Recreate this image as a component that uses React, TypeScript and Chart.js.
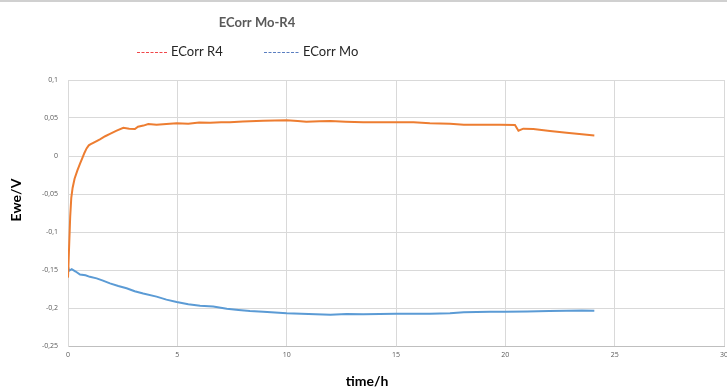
import React, { useEffect, useRef } from "react";
import { Chart, registerables } from "chart.js";

Chart.register(...registerables);

const TITLE = "ECorr Mo-R4";
const X_TITLE = "time/h";
const Y_TITLE = "Ewe/V";
const SERIES_NAMES = ["ECorr R4", "ECorr Mo"];
const LINE_COLORS = ["#ED7D31", "#5B9BD5"];
const LEGEND_COLORS = ["#F0474A", "#5A7EC0"];

const R4_TIME = [
  0, 0.05, 0.1, 0.15, 0.21, 0.3, 0.43, 0.55, 0.65, 0.75, 0.85, 0.95, 1.04, 1.2, 1.46, 1.7, 1.92, 2.2, 2.53,
  2.8, 3.06, 3.2, 3.45, 3.67, 4.05, 4.5, 4.97, 5.5, 6.0, 6.5, 7.0, 7.4, 8.0, 8.93, 10.0, 10.5, 10.9, 11.5,
  12.0, 12.7, 13.5, 14.2, 15.0, 15.8, 16.55, 17.47, 18.1, 19.3, 19.75, 20.44, 20.6, 20.82, 21.28, 22.04,
  22.8, 23.5, 24.07,
];
const R4_VALUES = [
  -0.16, -0.12, -0.08, -0.055, -0.042, -0.03, -0.019, -0.01, -0.003, 0.004, 0.01, 0.014, 0.0155, 0.018,
  0.022, 0.026, 0.029, 0.033, 0.037, 0.036, 0.0355, 0.0385, 0.04, 0.042, 0.041, 0.042, 0.043, 0.0425,
  0.044, 0.0438, 0.0445, 0.0443, 0.0455, 0.0465, 0.047, 0.0462, 0.045, 0.0458, 0.046, 0.045, 0.0443,
  0.0445, 0.0443, 0.0443, 0.043, 0.0425, 0.0412, 0.0412, 0.0412, 0.0408, 0.0333, 0.036, 0.0355, 0.033,
  0.0307, 0.0285, 0.027,
];

const MO_TIME = [
  0, 0.05, 0.17, 0.35, 0.55, 0.8, 1.0, 1.31, 1.6, 1.92, 2.3, 2.68, 3.05, 3.44, 4.05, 4.5, 4.97, 5.5, 6.04,
  6.64, 7.26, 7.8, 8.32, 8.93, 10.0, 11.0, 12.0, 12.74, 13.5, 15.0, 16.55, 17.47, 18.1, 19.3, 20.0, 21.0,
  22.0, 22.8, 23.5, 24.07,
];
const MO_VALUES = [
  -0.1455, -0.151, -0.149, -0.152, -0.156, -0.157, -0.159, -0.161, -0.164, -0.1676, -0.171, -0.174, -0.178,
  -0.181, -0.185, -0.189, -0.192, -0.195, -0.197, -0.198, -0.201, -0.2025, -0.204, -0.205, -0.207, -0.208,
  -0.209, -0.208, -0.2082, -0.2075, -0.2075, -0.207, -0.2057, -0.205, -0.205, -0.2045, -0.204, -0.2035,
  -0.2032, -0.2035,
];

const X_MIN = 0;
const X_MAX = 30;
const X_STEP = 5;
const Y_MIN = -0.25;
const Y_MAX = 0.1;
const Y_STEP = 0.05;

const fmt = (v: number) => String(Number(v.toFixed(2))).replace(".", ",");

const overlayPlugin = {
  id: "overlay",
  afterDraw(chart: any) {
    const ctx = chart.ctx;
    const area = chart.chartArea;
    ctx.save();
    // top frame line
    ctx.fillStyle = "#d0d0d0";
    ctx.fillRect(0, 0, chart.width, 2);

    // title
    ctx.fillStyle = "#595959";
    ctx.font = "bold 13px Lato";
    ctx.textAlign = "center";
    ctx.textBaseline = "middle";
    ctx.fillText(TITLE, 257, 23);

    // legend
    const legendItems = [
      { x0: 137, x1: 167, tx: 171 },
      { x0: 264, x1: 299, tx: 303 },
    ];
    legendItems.forEach((it, i) => {
      ctx.strokeStyle = LEGEND_COLORS[i];
      ctx.lineWidth = 1;
      ctx.setLineDash([3, 1.5]);
      ctx.beginPath();
      ctx.moveTo(it.x0, 52.5);
      ctx.lineTo(it.x1, 52.5);
      ctx.stroke();
      ctx.setLineDash([]);
      ctx.fillStyle = "#262626";
      ctx.font = "13px Lato";
      ctx.textAlign = "left";
      ctx.textBaseline = "middle";
      ctx.fillText(SERIES_NAMES[i], it.tx, 52);
    });

    // axis titles
    ctx.fillStyle = "#000000";
    ctx.font = "bold 14px Lato";
    ctx.textAlign = "center";
    ctx.textBaseline = "middle";
    ctx.fillText(X_TITLE, 367, 381);
    ctx.translate(16, 200);
    ctx.rotate(-Math.PI / 2);
    ctx.fillText(Y_TITLE, 0, 0);
    ctx.restore();
  },
};

export default function App() {
  const ref = useRef<HTMLCanvasElement | null>(null);

  useEffect(() => {
    document.body.style.margin = "0";
    const canvas = ref.current;
    if (!canvas) return;
    const chart = new Chart(canvas, {
      type: "line",
      data: {
        datasets: [
          {
            label: SERIES_NAMES[0],
            data: R4_TIME.map((t, i) => ({ x: t, y: R4_VALUES[i] })),
            borderColor: LINE_COLORS[0],
            backgroundColor: LINE_COLORS[0],
            borderWidth: 2,
            pointRadius: 0,
            tension: 0,
          },
          {
            label: SERIES_NAMES[1],
            data: MO_TIME.map((t, i) => ({ x: t, y: MO_VALUES[i] })),
            borderColor: LINE_COLORS[1],
            backgroundColor: LINE_COLORS[1],
            borderWidth: 2,
            pointRadius: 0,
            tension: 0,
          },
        ],
      },
      options: {
        responsive: false,
        animation: false,
        layout: { padding: { top: 80, right: 3, left: 0, bottom: 0 } },
        plugins: {
          legend: { display: false },
          title: { display: false },
          tooltip: { enabled: false },
        },
        scales: {
          x: {
            type: "linear",
            min: X_MIN,
            max: X_MAX,
            ticks: {
              stepSize: X_STEP,
              padding: 5,
              color: "#595959",
              font: { family: "Open Sans", size: 7 },
              maxRotation: 0,
            },
            grid: { color: "#d9d9d9", drawTicks: false, lineWidth: 1 },
            border: { color: "#bfbfbf", width: 1 },
            afterFit(s: any) {
              s.height = 42;
              s.paddingLeft = 0;
              s.paddingRight = 0;
            },
          },
          y: {
            type: "linear",
            min: Y_MIN,
            max: Y_MAX,
            ticks: {
              stepSize: Y_STEP,
              padding: 10,
              color: "#595959",
              font: { family: "Open Sans", size: 7 },
              callback: (v: any) => fmt(Number(v)),
            },
            grid: { color: "#d9d9d9", drawTicks: false, lineWidth: 1 },
            border: { color: "#d9d9d9", width: 1 },
            afterFit(s: any) {
              s.width = 68;
              s.paddingTop = 0;
              s.paddingBottom = 0;
            },
          },
        },
      },
      plugins: [overlayPlugin],
    });
    return () => chart.destroy();
  }, []);

  return (
    <div style={{ width: 727, height: 388, overflow: "hidden", background: "#fff" }}>
      <canvas ref={ref} width={727} height={388} style={{ display: "block" }} />
    </div>
  );
}
